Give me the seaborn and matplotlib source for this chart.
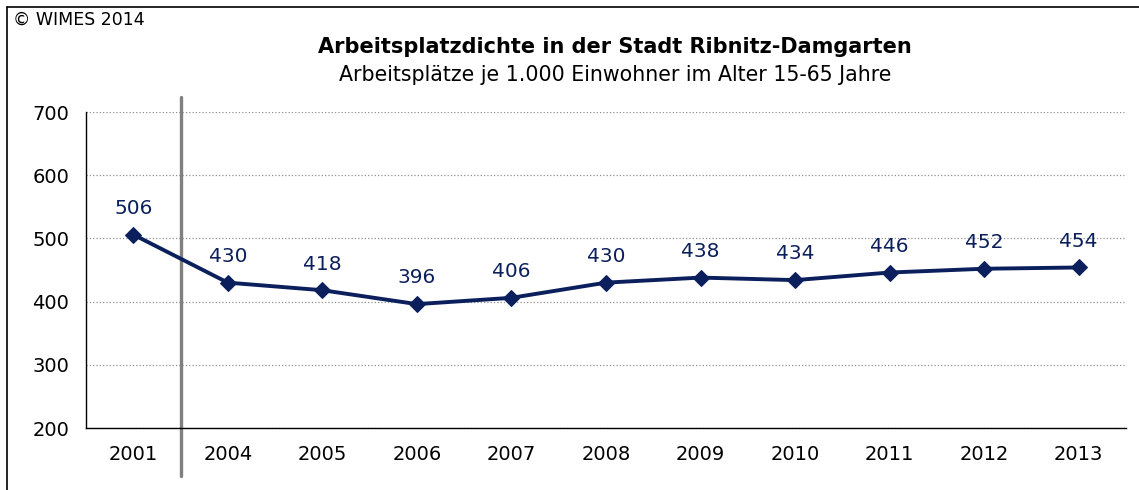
import numpy as np
import pandas as pd
import matplotlib.pyplot as plt
import seaborn as sns
from matplotlib.lines import Line2D

# Daten
jahre = ['2001', '2004', '2005', '2006', '2007', '2008', '2009', '2010', '2011', '2012', '2013']
werte = [506, 430, 418, 396, 406, 430, 438, 434, 446, 452, 454]

df = pd.DataFrame({'pos': np.arange(len(jahre)), 'jahr': jahre, 'wert': werte})

sns.set_style('white')
plt.rcParams['font.family'] = ['DejaVu Sans']
plt.rcParams['text.color'] = 'black'
plt.rcParams['xtick.labelcolor'] = 'black'
plt.rcParams['ytick.labelcolor'] = 'black'

navy = '#0b1f5c'

fig = plt.figure(figsize=(11.39, 4.90), dpi=100)
ax = fig.add_axes([86 / 1139, 1 - 428 / 490, (1126 - 86) / 1139, (428 - 112) / 490])

sns.lineplot(data=df, x='pos', y='wert', ax=ax, color=navy, linewidth=2.8,
             marker='D', markersize=8, markeredgecolor=navy)

# Werte über den Punkten
for p, w in zip(df['pos'], df['wert']):
    ax.annotate(str(w), (p, w), xytext=(0, 12), textcoords='offset points',
                ha='center', va='bottom', fontsize=14.5, color=navy)

ax.set_xlim(-0.5, len(jahre) - 0.5)
ax.set_ylim(200, 700)
ax.set_yticks([200, 300, 400, 500, 600, 700])
ax.set_yticklabels(['200', '300', '400', '500', '600', '700'], fontsize=14)
ax.set_xticks(df['pos'])
ax.set_xticklabels(jahre, fontsize=14)
ax.set_xticks(np.arange(-0.5, len(jahre), 1), minor=True)
ax.tick_params(axis='x', which='major', length=0, pad=12)
ax.tick_params(axis='x', which='minor', length=6, color='#a0a0a0', width=1)
ax.tick_params(axis='y', length=6, color='#a0a0a0', width=1, pad=6)
ax.set_xlabel('')
ax.set_ylabel('')

ax.grid(axis='y', color='#909090', linestyle=':', linewidth=0.9)
ax.set_axisbelow(True)
for s in ['top', 'right']:
    ax.spines[s].set_visible(False)
for s in ['left', 'bottom']:
    ax.spines[s].set_color('black')
    ax.spines[s].set_linewidth(1)

# grauer Trennstrich zwischen 2001 und 2004
ax.axvline(0.5, ymin=(428 - 476) / 316, ymax=(428 - 97) / 316, color='#808080',
           linewidth=2.4, clip_on=False, zorder=1)

# Titel
fig.text(615 / 1139, 1 - 47 / 490, 'Arbeitsplatzdichte in der Stadt Ribnitz-Damgarten',
         ha='center', va='center', fontsize=15, fontweight='bold')
fig.text(615 / 1139, 1 - 75 / 490, 'Arbeitsplätze je 1.000 Einwohner im Alter 15-65 Jahre',
         ha='center', va='center', fontsize=14.8)
fig.text(13 / 1139, 1 - 20 / 490, '© WIMES 2014', ha='left', va='center', fontsize=12.5)

# Rahmen links und oben
fig.add_artist(Line2D([7 / 1139, 7 / 1139], [0, 1 - 7 / 490], color='black', linewidth=1.2))
fig.add_artist(Line2D([7 / 1139, 1], [1 - 7 / 490, 1 - 7 / 490], color='black', linewidth=1.2))

plt.savefig('out.png', dpi=100)
